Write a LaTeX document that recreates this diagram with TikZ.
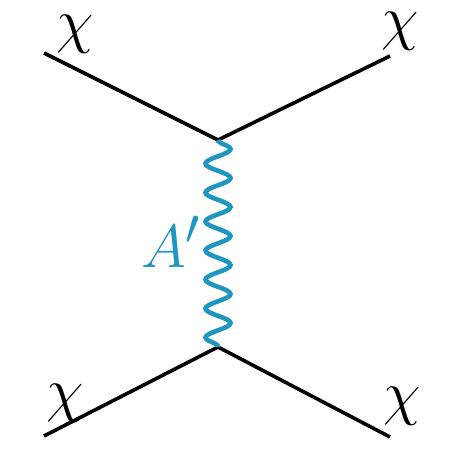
\documentclass[tikz,border=0pt]{standalone}
\usetikzlibrary{decorations.pathmorphing}
\definecolor{photonblue}{RGB}{30,150,192}
\newcommand{\biglbl}[1]{\scalebox{2.45}{\Huge$#1$}}
\begin{document}
\begin{tikzpicture}[x=1pt, y=-1pt,
    fermion/.style={line width=3.6pt, black},
    photon/.style={line width=4.6pt, photonblue, decorate,
        decoration={snake, amplitude=12.5pt, segment length=29pt}},
    lbl/.style={inner sep=0pt, anchor=base}]
    \useasboundingbox (0,0) rectangle (453,458);
    \coordinate (v1) at (218,140);
    \coordinate (v2) at (218,347);
    \coordinate (in1) at (44,53);
    \coordinate (out1) at (390,56);
    \coordinate (in2) at (44,436);
    \coordinate (out2) at (390,437);

    \draw[fermion] (in1) -- (v1) -- (out1);
    \draw[fermion] (in2) -- (v2) -- (out2);
    \draw[photon] (v1) -- (v2);

    \node[lbl] (c1) at (75,41) {\biglbl{\chi}};
    \node[lbl] (c2) at (400,38) {\biglbl{\chi}};
    \node[lbl] (c3) at (65,410) {\biglbl{\chi}};
    \node[lbl] (c4) at (402,413) {\biglbl{\chi}};
    \node[lbl, text=photonblue] (ap) at (171,267) {\biglbl{A'}};
\end{tikzpicture}
\end{document}
